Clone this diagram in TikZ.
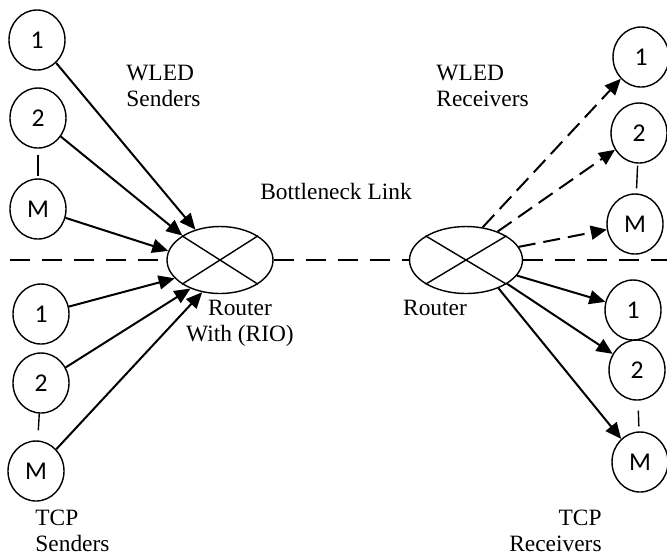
\documentclass[tikz,border=0pt]{standalone}
\usepackage{fontspec}
\setmainfont{Liberation Serif}
\newfontfamily\calfont{Carlito}
\usetikzlibrary{shapes.geometric,arrows.meta}
\begin{document}
\begin{tikzpicture}[x=0.5pt,y=-0.5pt,
 host/.style={ellipse,draw,line width=0.7pt,minimum width=28pt,minimum height=30pt,inner sep=0pt,font=\calfont\fontsize{12.8}{13}\selectfont},
 router/.style={ellipse,draw,line width=0.7pt,minimum height=33.5pt,inner sep=0pt},
 lbl/.style={inner sep=0pt,font=\fontsize{11.7}{13}\selectfont},
 arr/.style={line width=1pt,-{Triangle[length=8pt,width=7pt]}},
 darr/.style={arr,dash pattern=on 8.5pt off 4pt},
 hdash/.style={line width=0.6pt,dash pattern=on 10pt off 6pt},
 tick/.style={line width=0.7pt}]
\useasboundingbox (0,0) rectangle (667,559);
% routers
\node[router,minimum width=53pt] (rl) at (220,260) {};
\node[router,minimum width=56.5pt] (rr) at (466,260) {};
\draw[line width=0.7pt] (rl.north west) -- (rl.south east) (rl.north east) -- (rl.south west);
\draw[line width=0.7pt] (rr.north west) -- (rr.south east) (rr.north east) -- (rr.south west);
% hosts left
\node[host] (s1) at (37,40) {1};
\node[host] (s2) at (38,118) {2};
\node[host] (sM) at (38,209) {M};
\node[host] (t1) at (41,314) {1};
\node[host] (t2) at (41,383) {2};
\node[host] (tM) at (36,471) {M};
% hosts right
\node[host] (r1) at (641,57) {1};
\node[host] (r2) at (639,133) {2};
\node[host] (rM) at (635,224) {M};
\node[host] (q1) at (633,310) {1};
\node[host] (q2) at (637,370) {2};
\node[host] (qM) at (640,462) {M};
% ticks
\draw[tick,shorten <=3pt,shorten >=1pt] (s2) -- (sM);
\draw[tick,shorten >=5pt] (t2) -- (tM);
\draw[tick,shorten <=1pt,shorten >=2.5pt] (r2) -- (rM);
\draw[tick,shorten <=5pt,shorten >=2.5pt] (q2) -- (qM);
% dashed line
\coordinate (hl) at (10,260);
\coordinate (hr) at (667,260);
\draw[hdash] (hl) -- (rl);
\draw[hdash] (rl) -- (rr);
\draw[hdash] (rr) -- (hr);
% arrows left
\draw[arr] (s1) -- (rl.129);
\draw[arr] (s2) -- (rl.147);
\draw[arr] (sM) -- (rl.170);
\draw[arr] (t1) -- (rl.202);
\draw[arr] (t2) -- (rl.224);
\draw[arr] (tM) -- (rl.241);
% arrows right
\draw[darr] (rr.63) -- (r1);
\draw[darr] (rr.42) -- (r2);
\draw[darr] (rr.14) -- (rM);
\draw[arr] (rr.-17) -- (q1);
\draw[arr] (rr.-30) -- (q2);
\draw[arr] (rr.-41) -- (qM);
% labels
\node[lbl,anchor=north west,align=left] (lws) at (126,65) {WLED\\Senders};
\node[lbl,anchor=north west,align=left] (lwr) at (436,65) {WLED\\Receivers};
\node[lbl,anchor=north] (lbn) at (336,183) {Bottleneck Link};
\node[lbl,anchor=north,align=center] (lrl) at (240,300) {Router\\With (RIO)};
\node[lbl,anchor=north] (lrr) at (435,300) {Router};
\node[lbl,anchor=north west,align=left] (lts) at (35,510) {TCP\\Senders};
\node[lbl,anchor=north east,align=right] (ltr) at (602,510) {TCP\\Receivers};
\end{tikzpicture}
\end{document}
